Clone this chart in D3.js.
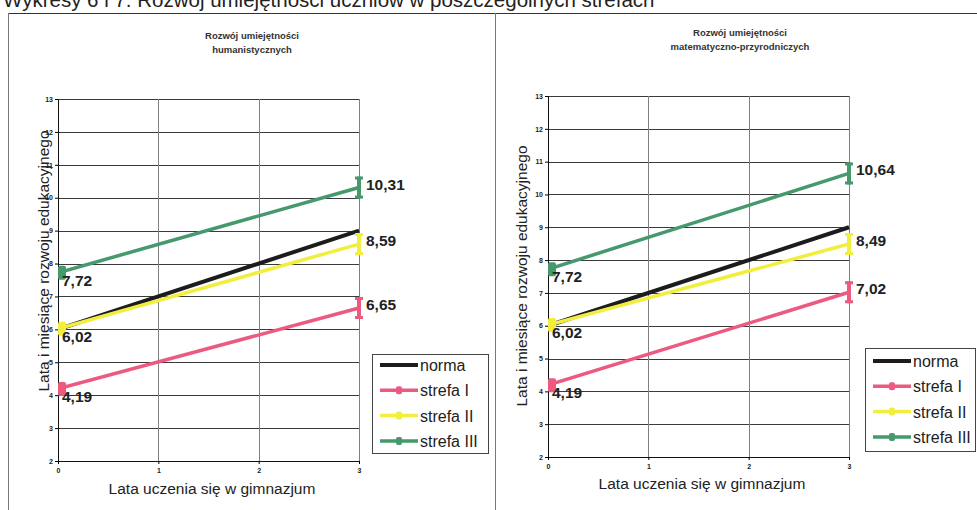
<!DOCTYPE html>
<html><head><meta charset="utf-8">
<script src="https://cdn.jsdelivr.net/npm/d3@7"></script>
<style>
html,body{margin:0;padding:0;background:#fff;}
svg{display:block;font-family:"Liberation Sans",Arial,sans-serif;}
</style></head>
<body>
<svg id="c" width="977" height="510"></svg>
<script>
// ---- data ----
const pageTitle = "Wykresy 6 i 7. Rozwój umiejętności uczniów w poszczególnych strefach";
const chartTitles = [["Rozwój umiejętności","humanistycznych"],["Rozwój umiejętności","matematyczno-przyrodniczych"]];
const xTicks = [0,1,2,3];
const yTicks = [2,3,4,5,6,7,8,9,10,11,12,13];
const seriesNames = ["norma","strefa I","strefa II","strefa III"];
const humStart = [6, 4.19, 6.02, 7.72];
const humEnd   = [9, 6.65, 8.59, 10.31];
const matStart = [6, 4.19, 6.02, 7.72];
const matEnd   = [9, 7.02, 8.49, 10.64];
const xTitle = "Lata uczenia się w gimnazjum";
const yTitle = "Lata i miesiące rozwoju edukacyjnego";

// ---- styles ----
const colors = ["#1c1c1c","#ec5a80","#f2ee3e","#45996c"];
const svg = d3.select("#c");

// page frame
svg.append("text").attr("x",3).attr("y",7).attr("font-size",20.5).attr("fill","#222").text(pageTitle);
svg.append("line").attr("x1",8).attr("x2",977).attr("y1",13.5).attr("y2",13.5).attr("stroke","#333").attr("stroke-width",1.2);
svg.append("line").attr("x1",8.5).attr("x2",8.5).attr("y1",13).attr("y2",510).attr("stroke","#777").attr("stroke-width",1);
svg.append("line").attr("x1",495.5).attr("x2",495.5).attr("y1",13).attr("y2",510).attr("stroke","#777").attr("stroke-width",1);

const panels = [
  {start:humStart,end:humEnd,title:chartTitles[0],x0:58,x1:359,yTop:99,yBot:461,titleX:252,titleY:39,
   yTitleX:49,yTitleY:261,xTitleX:212,xTitleY:494,xTickY:472,legend:{x:372,y:354,w:116,h:99,ry:365}},
  {start:matStart,end:matEnd,title:chartTitles[1],x0:548,x1:849,yTop:96,yBot:457,titleX:740,titleY:36,
   yTitleX:527,yTitleY:276,xTitleX:702,xTitleY:489,xTickY:469,legend:{x:865,y:348,w:110,h:103,ry:361}}
];

panels.forEach((p,pi)=>{
  const g = svg.append("g");
  const x = d3.scaleLinear().domain([0,3]).range([p.x0,p.x1]);
  const y = d3.scaleLinear().domain([2,13]).range([p.yBot,p.yTop]);

  // chart title
  p.title.forEach((t,i)=>g.append("text").attr("x",p.titleX).attr("y",p.titleY+i*14)
    .attr("text-anchor","middle").attr("font-size",9.5).attr("font-weight","bold").attr("fill","#333").text(t));

  // grid
  g.selectAll(".hg").data(yTicks).join("line").attr("x1",p.x0).attr("x2",p.x1)
    .attr("y1",d=>Math.round(y(d))+0.5).attr("y2",d=>Math.round(y(d))+0.5)
    .attr("stroke","#3a3a3a").attr("stroke-width",1);
  g.selectAll(".vg").data(xTicks.slice(1)).join("line").attr("y1",p.yTop).attr("y2",p.yBot)
    .attr("x1",d=>Math.round(x(d))+0.5).attr("x2",d=>Math.round(x(d))+0.5)
    .attr("stroke","#808080").attr("stroke-width",1);

  // axes
  const ya = d3.axisLeft(y).tickValues(yTicks).tickSize(3).tickPadding(2);
  const ag = g.append("g").attr("transform",`translate(${p.x0},0)`).call(ya);
  ag.select(".domain").attr("stroke","#111");
  ag.selectAll("text").attr("font-size",7).attr("fill","#222").attr("font-weight","bold");
  const xa = d3.axisBottom(x).tickValues(xTicks).tickSize(3).tickPadding(4).tickFormat(d3.format("d"));
  const xg = g.append("g").attr("transform",`translate(0,${p.yBot})`).call(xa);
  xg.select(".domain").attr("stroke","#111");
  xg.selectAll("text").attr("font-size",7).attr("fill","#222").attr("font-weight","bold");

  // axis titles
  g.append("text").attr("transform",`translate(${p.yTitleX},${p.yTitleY}) rotate(-90)`)
    .attr("text-anchor","middle").attr("font-size",15.5).attr("fill","#222").text(yTitle);
  g.append("text").attr("x",p.xTitleX).attr("y",p.xTitleY).attr("text-anchor","middle")
    .attr("font-size",15.5).attr("fill","#222").text(xTitle);

  // series
  const clipId = "clip"+pi;
  svg.append("clipPath").attr("id",clipId).append("rect")
    .attr("x",p.x0).attr("y",p.yTop-30).attr("width",p.x1-p.x0+30).attr("height",p.yBot-p.yTop+60);
  const sg = g.append("g").attr("clip-path",`url(#${clipId})`);
  const line = d3.line().x(d=>x(d[0])).y(d=>y(d[1]));
  seriesNames.forEach((n,i)=>{
    const pts = [[0,p.start[i]],[3,p.end[i]]];
    sg.append("path").attr("d",line(pts)).attr("fill","none").attr("stroke",colors[i])
      .attr("stroke-width",i===0?4:3.5);
    if(i>0){
      // start marker
      sg.append("rect").attr("x",x(0)).attr("y",y(p.start[i])-7).attr("width",8).attr("height",14)
        .attr("fill",colors[i]).attr("rx",2);
      // end marker (I-beam)
      const cx = x(3), cy = y(p.end[i]);
      const h = 11;
      sg.append("rect").attr("x",cx-2).attr("y",cy-h).attr("width",4).attr("height",2*h).attr("fill",colors[i]);
      sg.append("rect").attr("x",cx-4).attr("y",cy-h).attr("width",8).attr("height",3).attr("fill",colors[i]);
      sg.append("rect").attr("x",cx-4).attr("y",cy+h-3).attr("width",8).attr("height",3).attr("fill",colors[i]);
    }
  });

  // data labels
  seriesNames.forEach((n,i)=>{
    if(i===0) return;
    g.append("text").attr("x",x(0)+4).attr("y",y(p.start[i])+13).attr("font-size",15.5)
      .attr("font-weight","bold").attr("fill","#222").text(d3.format(".2f")(p.start[i]).replace(".",","));
    g.append("text").attr("x",x(3)+7).attr("y",y(p.end[i])+2).attr("font-size",15.5)
      .attr("font-weight","bold").attr("fill","#222").text(d3.format(".2f")(p.end[i]).replace(".",","));
  });

  // legend
  const L = p.legend;
  g.append("rect").attr("x",L.x+0.5).attr("y",L.y+0.5).attr("width",L.w).attr("height",L.h)
    .attr("fill","#fff").attr("stroke","#444").attr("stroke-width",1);
  seriesNames.forEach((n,i)=>{
    const ly = L.ry + i*25.3;
    g.append("line").attr("x1",L.x+8).attr("x2",L.x+46).attr("y1",ly).attr("y2",ly)
      .attr("stroke",colors[i]).attr("stroke-width",i===0?4:3.5);
    if(i>0) g.append("rect").attr("x",L.x+24).attr("y",ly-4).attr("width",6).attr("height",8)
      .attr("fill",colors[i]).attr("rx",2);
    g.append("text").attr("x",L.x+48).attr("y",ly+6).attr("font-size",16).attr("fill","#222").text(n);
  });
});
</script>
</body></html>
